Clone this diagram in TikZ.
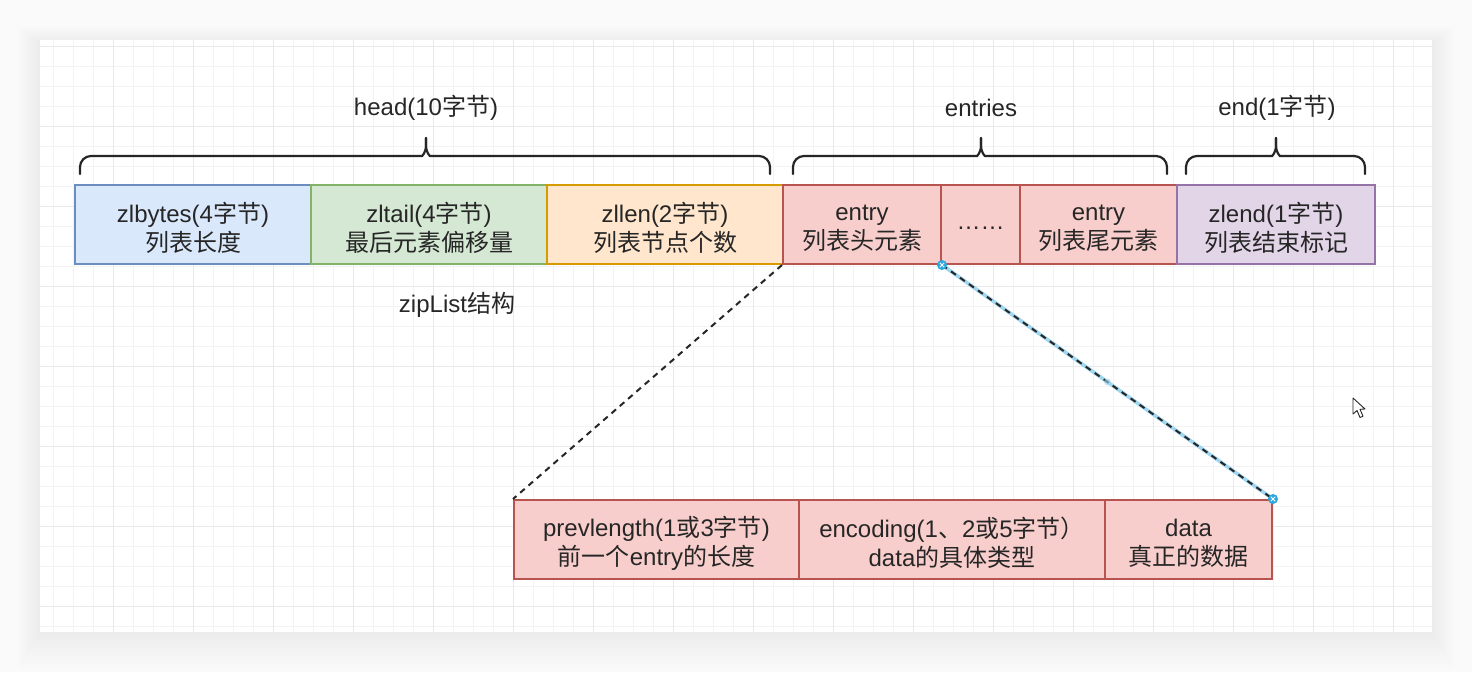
\documentclass[tikz,border=0pt]{standalone}
\usepackage{fontspec}
\usetikzlibrary{calc}
\setmainfont{Liberation Sans}
\newfontfamily\cjkf{Noto Sans CJK SC}
\newcommand\zh[1]{{\cjkf #1}}
\definecolor{txt}{HTML}{262626}
\definecolor{bfill}{HTML}{DAE8FC}\definecolor{bline}{HTML}{6C8EBF}
\definecolor{gfill}{HTML}{D5E8D4}\definecolor{gline}{HTML}{82B366}
\definecolor{ofill}{HTML}{FFE6CC}\definecolor{oline}{HTML}{D79B00}
\definecolor{rfill}{HTML}{F8CECC}\definecolor{rline}{HTML}{B85450}
\definecolor{pfill}{HTML}{E1D5E7}\definecolor{pline}{HTML}{9673A6}
\definecolor{gridminor}{HTML}{F3F3F3}
\definecolor{gridmajor}{HTML}{E9E9E9}
\definecolor{handle}{HTML}{29A8E0}
\definecolor{selblue}{HTML}{9FD6F0}
\begin{document}
\begin{tikzpicture}[x=1pt,y=-1pt,
  cell/.style={draw, line width=2pt, minimum height=79pt, anchor=north west,
    inner sep=0pt},
  celltext/.style={align=center, font=\fontsize{24}{29}\selectfont, text=txt, yshift=-3.5pt},
  lbl/.style={font=\fontsize{24}{29}\selectfont, text=txt, inner sep=0pt},
  bracepath/.style={draw=txt, line width=2.2pt, rounded corners=11pt, line cap=round},
  conn/.style={draw=txt, line width=2pt, dash pattern=on 6pt off 5pt}]
\useasboundingbox (0,0) rectangle (1472,672);
% page background and card shadow
\fill[white!98!black] (0,0) rectangle (1472,672);
\foreach \i in {1,...,14}
  \fill[black, opacity=0.005] (40-1.6*\i,40-1.2*\i+3) rectangle (1432+1.6*\i,632+2.6*\i);
\fill[white] (40,40) rectangle (1432,632);
% grid
\begin{scope}
\clip (40,40) rectangle (1432,632);
\foreach \x in {53,73,...,1433} \draw[gridminor, line width=0.8pt] (\x,40) -- (\x,632);
\foreach \y in {46,66,...,632} \draw[gridminor, line width=0.8pt] (40,\y) -- (1432,\y);
\foreach \x in {113,193,...,1433} \draw[gridmajor, line width=0.9pt] (\x,40) -- (\x,632);
\foreach \y in {46,126,...,632} \draw[gridmajor, line width=0.9pt] (40,\y) -- (1432,\y);
\end{scope}
% top row
\node[cell, fill=bfill, draw=bline, minimum width=236pt,
  label={[celltext]center:zlbytes(4\zh{字节})\\\zh{列表长度}}] (zlbytes) at (74,184) {};
\node[cell, fill=gfill, draw=gline, minimum width=236pt,
  label={[celltext]center:zltail(4\zh{字节})\\\zh{最后元素偏移量}}] (zltail) at (310,184) {};
\node[cell, fill=ofill, draw=oline, minimum width=236pt,
  label={[celltext]center:zllen(2\zh{字节})\\\zh{列表节点个数}}] (zllen) at (546,184) {};
\node[cell, fill=rfill, draw=rline, minimum width=158pt,
  label={[celltext]center:entry\\\zh{列表头元素}}] (entryA) at (782,184) {};
\node[cell, fill=rfill, draw=rline, minimum width=79pt,
  label={[celltext]center:……}] (dots) at (940,184) {};
\node[cell, fill=rfill, draw=rline, minimum width=157pt,
  label={[celltext]center:entry\\\zh{列表尾元素}}] (entryB) at (1019,184) {};
\node[cell, fill=pfill, draw=pline, minimum width=198pt,
  label={[celltext]center:zlend(1\zh{字节})\\\zh{列表结束标记}}] (zlend) at (1176,184) {};
% braces
\coordinate (hL) at (80,174); \coordinate (hM) at (426,138); \coordinate (hR) at (770,174);
\coordinate (eL) at (793,174); \coordinate (eM) at (981,138); \coordinate (eR) at (1167,174);
\coordinate (dL) at (1186,174); \coordinate (dM) at (1276,138); \coordinate (dR) at (1365,174);
\foreach \L/\M/\R in {hL/hM/hR, eL/eM/eR, dL/dM/dR}{
  \draw[bracepath] (\L) -- (\L |- 0,156) -- ([xshift=-15pt]\M |- 0,156)
     [sharp corners] .. controls ([xshift=-4pt]\M |- 0,156) and ([yshift=3pt]\M |- 0,156) .. ([yshift=11pt]\M |- 0,156) -- (\M);
  \draw[bracepath] (\R) -- (\R |- 0,156) -- ([xshift=15pt]\M |- 0,156)
     [sharp corners] .. controls ([xshift=4pt]\M |- 0,156) and ([yshift=3pt]\M |- 0,156) .. ([yshift=11pt]\M |- 0,156) -- (\M);
}
\node[lbl] (headlbl) at (426,108) {head(10\zh{字节})};
\node[lbl] (entrieslbl) at (981,108) {entries};
\node[lbl] (endlbl) at (1277,108) {end(1\zh{字节})};
\node[lbl] (title) at (457,305) {zipList\zh{结构}};
% bottom row
\node[cell, fill=rfill, draw=rline, minimum width=285pt,
  label={[celltext]center:prevlength(1\zh{或}3\zh{字节})\\\zh{前一个}entry\zh{的长度}}] (prev) at (513,499) {};
\node[cell, fill=rfill, draw=rline, minimum width=306pt,
  label={[celltext]center:encoding(1\zh{、}2\zh{或}5\zh{字节}{\cjkf ）}\\data\zh{的具体类型}}] (enc) at (798,499) {};
\node[cell, fill=rfill, draw=rline, minimum width=167pt,
  label={[celltext]center:data\\\zh{真正的数据}}] (data) at (1104,499) {};
% connectors
\draw[conn] (entryA.south west) -- (prev.north west);
\draw[selblue, line width=3.6pt] (entryA.south east) -- (data.north east);
\draw[conn] (entryA.south east) -- (data.north east);
\fill[selblue, opacity=0.6] ($(entryA.south east)!0.5!(data.north east)$) circle (3.5pt);
\foreach \p in {entryA.south east, data.north east}{
  \fill[handle] (\p) circle (5pt);
  \draw[white, line width=1pt] ([shift={(-2.2pt,-2.2pt)}]\p) -- ([shift={(2.2pt,2.2pt)}]\p);
  \draw[white, line width=1pt] ([shift={(-2.2pt,2.2pt)}]\p) -- ([shift={(2.2pt,-2.2pt)}]\p);
}
% mouse pointer
\filldraw[fill=white, draw=black!85, line width=0.9pt, line join=round]
  (1353,398) -- (1353,414) -- (1357,410.5) -- (1360,417.5) -- (1363,416.2) -- (1360,409.3) -- (1365,409) -- cycle;
\end{tikzpicture}
\end{document}
